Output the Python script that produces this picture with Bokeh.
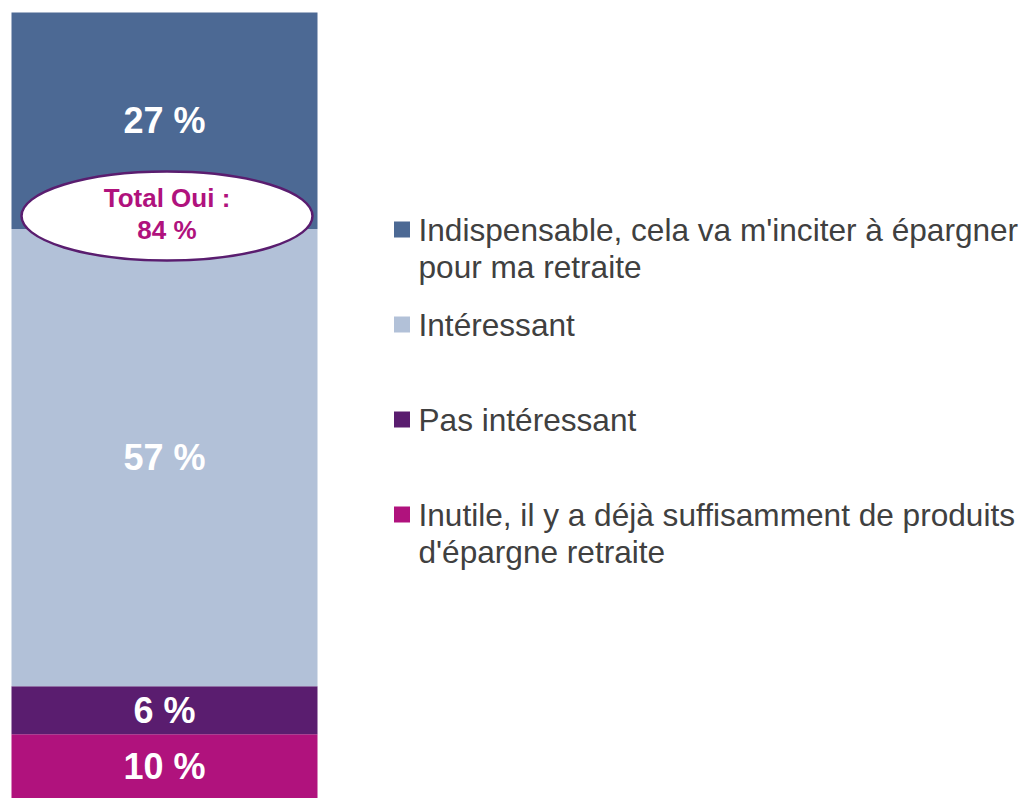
from bokeh.plotting import figure
from bokeh.models import Range1d
from bokeh.core.properties import value
from bokeh.embed import file_html
from bokeh.resources import INLINE

# Data (bottom to top)
categories = ["Inutile, il y a déjà suffisamment de produits d'épargne retraite",
              "Pas intéressant",
              "Intéressant",
              "Indispensable, cela va m'inciter à épargner pour ma retraite"]
values = [10, 6, 57, 27]
labels = ["10 %", "6 %", "57 %", "27 %"]
colors = ["#b0127d", "#5a1d6f", "#b2c1d8", "#4c6994"]
total_label = ["Total Oui :", "84 %"]

# legend entries (top to bottom), each a list of lines
legend_lines = [
    ["Indispensable, cela va m'inciter à épargner", "pour ma retraite"],
    ["Intéressant"],
    ["Pas intéressant"],
    ["Inutile, il y a déjà suffisamment de produits", "d'épargne retraite"],
]
legend_colors = ["#4c6994", "#b2c1d8", "#5a1d6f", "#b0127d"]

W, H = 1026, 798
Y0, Y1 = 2.0, 101.5

p = figure(width=W, height=H, output_backend="svg", toolbar_location=None,
           x_range=Range1d(0, W), y_range=Range1d(Y0, Y1),
           x_axis_type=None, y_axis_type=None, min_border=0)
p.outline_line_color = None
p.grid.visible = False
p.extra_y_ranges = {"px": Range1d(H, 0)}

bottoms, tops = [], []
acc = 0
for v in values:
    bottoms.append(acc)
    acc += v
    tops.append(acc)

bar_x, bar_w = 164, 306
p.vbar(x=[bar_x] * len(values), width=bar_w, bottom=bottoms, top=tops,
       fill_color=colors, line_color=None)

mids = [(max(b, Y0) + t) / 2 for b, t in zip(bottoms, tops)]
p.text(x=[bar_x] * len(values), y=mids, text=labels, text_color="white",
       text_font=value("Liberation Sans"), text_font_style="bold",
       text_font_size="36px", text_align="center", text_baseline="middle")

# Total Oui ellipse at the top of "Intéressant"
yb = tops[2]
ex = 166.5
p.ellipse(x=[ex], y=[yb + 1.63], width=[291], height=[89],
          width_units="screen", height_units="screen",
          fill_color="white", line_color="#5a1d6f", line_width=2.5)
p.text(x=[ex, ex], y=[yb + 3.9, yb - 0.1], text=total_label,
       text_color="#b0127d", text_font=value("Liberation Sans"),
       text_font_style="bold", text_font_size="26px",
       text_align="center", text_baseline="middle")

# Legend
entry_y = [229, 324, 419, 514]
line_gap = 37
sq_x, txt_x = 401.5, 418
p.scatter(x=[sq_x] * 4, y=entry_y, marker="square", size=16,
          fill_color=legend_colors, line_color=None, y_range_name="px")
tx, ty, tt = [], [], []
for y, lines in zip(entry_y, legend_lines):
    for i, ln in enumerate(lines):
        tx.append(txt_x)
        ty.append(y + i * line_gap)
        tt.append(ln)
p.text(x=tx, y=ty, text=tt, text_color="#404040",
       text_font=value("Liberation Sans"), text_font_size="31.6px",
       text_align="left", text_baseline="middle", y_range_name="px")

open("out.html", "w").write(file_html(p, INLINE))
